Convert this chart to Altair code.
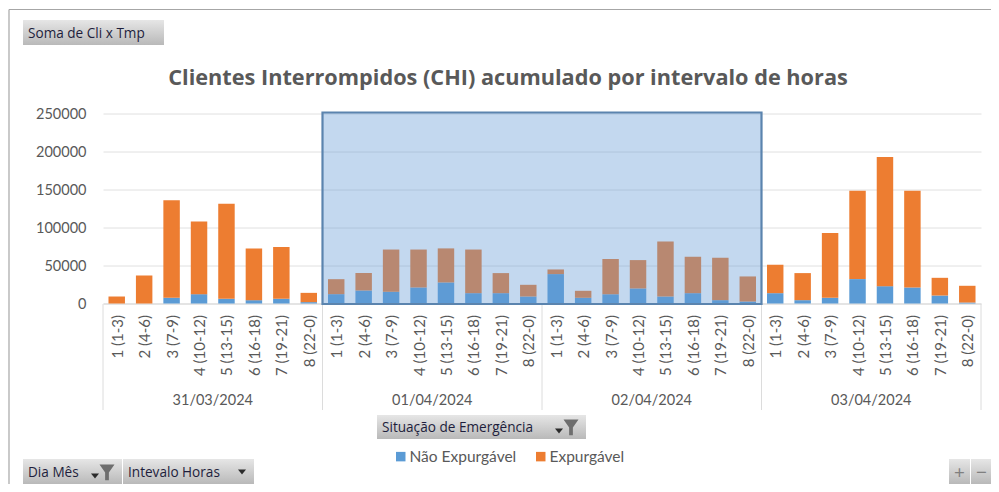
import altair as alt
import pandas as pd

DAYS = ["31/03/2024", "01/04/2024", "02/04/2024", "03/04/2024"]
INTERVALS = ["1 (1-3)", "2 (4-6)", "3 (7-9)", "4 (10-12)", "5 (13-15)", "6 (16-18)", "7 (19-21)", "8 (22-0)"]
NAO = [0, 0, 7500, 12300, 6200, 4400, 6200, 1800,
       12300, 17100, 15400, 21100, 27700, 13600, 13600, 9200,
       38700, 7500, 12300, 19800, 9200, 13600, 4400, 2600,
       13600, 4400, 7500, 32100, 22800, 21100, 10500, 1300]
TOTAL = [9200, 37000, 135800, 108000, 131400, 72500, 74300, 14000,
         32000, 40000, 71000, 71000, 72500, 71000, 40000, 24600,
         44800, 16700, 58400, 57100, 81700, 61500, 60200, 35600,
         51000, 40000, 92700, 148500, 192900, 148500, 33800, 23300]
SERIES = ["Não Expurgável", "Expurgável"]
COLORS = ["#5b9bd5", "#ed7d31"]
TITLE = "Clientes Interrompidos (CHI) acumulado por intervalo de horas"

FONT = "Lato"
GRAY = "#595959"
OX, OY = 103, 113.5
W, H = 878, 190

def fx(v):
    return v - OX

def fy(v):
    return v - OY

keys = [f"{d}|{i}" for d in DAYS for i in INTERVALS]
rows = []
for k, n, t in zip(keys, NAO, TOTAL):
    rows.append({"key": k, "serie": SERIES[0], "ordem": 0, "valor": n})
    rows.append({"key": k, "serie": SERIES[1], "ordem": 1, "valor": t - n})
bars_df = pd.DataFrame(rows)

one = pd.DataFrame({"a": [0]})

bars = alt.Chart(bars_df).mark_bar().encode(
    x=alt.X("key:N", sort=keys, title=None,
            scale=alt.Scale(paddingInner=0.4, paddingOuter=0.2),
            axis=alt.Axis(labelAngle=270, labelExpr="split(datum.value, '|')[1]",
                          labelFont=FONT, labelFontSize=15, labelColor=GRAY,
                          labelPadding=11, labelOffset=1, ticks=False, domain=True, domainColor="#d9d9d9",
                          labelOverlap=False, labelLimit=120, grid=False)),
    y=alt.Y("valor:Q", title=None, stack="zero",
            scale=alt.Scale(domain=[0, 250000], nice=False),
            axis=alt.Axis(values=[0, 50000, 100000, 150000, 200000, 250000], format="d",
                          labelFont=FONT, labelFontSize=14.5, labelColor=GRAY, labelPadding=17, labelOffset=1,
                          ticks=False, domain=False, grid=True, gridColor="#e0e0e0", gridWidth=1)),
    color=alt.Color("serie:N", sort=SERIES, scale=alt.Scale(domain=SERIES, range=COLORS),
                    legend=alt.Legend(title=None, orient="none", direction="horizontal", columns=2,
                                      legendX=fx(393), legendY=fy(448.5), symbolType="square",
                                      symbolSize=90, symbolStrokeWidth=0, labelFont=FONT,
                                      labelFontSize=15.5, labelColor=GRAY, columnPadding=16,
                                      labelOffset=1)),
    order=alt.Order("ordem:Q"),
)

X_Q = alt.Scale(domain=[0, 32], nice=False, zero=False)

day_df = pd.DataFrame({"dia": DAYS, "meio": [4, 12, 20, 28]})
day_labels = alt.Chart(day_df).mark_text(font=FONT, fontSize=14.5, color=GRAY, baseline="middle").encode(
    x=alt.X("meio:Q", scale=X_Q, axis=None),
    y=alt.value(fy(401)),
    text="dia:N",
)

sep_df = pd.DataFrame({"p": [0, 8, 16, 24, 32]})
seps = alt.Chart(sep_df).mark_rule(color="#dcdcdc", strokeWidth=1).encode(
    x=alt.X("p:Q", scale=X_Q, axis=None),
    y=alt.value(fy(304)),
    y2=alt.value(fy(410)),
)

sel_df = pd.DataFrame({"ini": [8], "fim": [24]})
selection = alt.Chart(sel_df).mark_rect(fill="#659bd6", fillOpacity=0.39, stroke="#5b84ae",
                                        strokeWidth=2.2).encode(
    x=alt.X("ini:Q", scale=X_Q, axis=None),
    x2="fim:Q",
    y=alt.value(fy(112.5)),
    y2=alt.value(fy(304)),
)

title = alt.Chart(one).mark_text(text=TITLE, font="Open Sans", fontSize=21.7, fontWeight="bold", color=GRAY,
                                 baseline="middle").encode(
    x=alt.value(fx(508)), y=alt.value(fy(78)))

GRAD = alt.Gradient(gradient="linear", x1=0, y1=0, x2=0, y2=1,
                    stops=[alt.GradientStop(color="#e6e6e6", offset=0),
                           alt.GradientStop(color="#b9b9b9", offset=1)])

def button(x0, y0, x1, y1, label=None, text_x=None, align="left", size=13.6, color="#1e1e3c"):
    parts = [alt.Chart(one).mark_rect(fill=GRAD).encode(
        x=alt.value(fx(x0)), x2=alt.value(fx(x1)), y=alt.value(fy(y0)), y2=alt.value(fy(y1)))]
    if label:
        parts.append(alt.Chart(one).mark_text(text=label, font="Open Sans", fontSize=size, color=color,
                                              align=align, baseline="middle").encode(
            x=alt.value(fx(text_x if text_x is not None else x0 + 5)),
            y=alt.value(fy((y0 + y1) / 2 + 1))))
    return parts

def funnel(cx, cy):
    return [alt.Chart(one).mark_point(
        shape="M-1,-1 L1,-1 L0.25,0.05 L0.25,1.1 L-0.25,1.1 L-0.25,0.05 Z",
        filled=True, color="#6e6e6e", opacity=1, size=225).encode(
        x=alt.value(fx(cx)), y=alt.value(fy(cy)))]

def arrow(cx, cy):
    return [alt.Chart(one).mark_point(shape="M-1,-0.6 L1,-0.6 L0,0.6 Z", filled=True,
                                      color="#2b2b2b", opacity=1, size=64).encode(
        x=alt.value(fx(cx)), y=alt.value(fy(cy)))]

def line(x0, y0, x1, y1):
    return alt.Chart(one).mark_rule(color="#a6a6a6", strokeWidth=1.2).encode(
        x=alt.value(fx(x0)), x2=alt.value(fx(x1)), y=alt.value(fy(y0)), y2=alt.value(fy(y1)))

chrome = [line(9, 9.5, 991, 9.5), line(9, 9.5, 9, 484)]
chrome += button(23, 20, 164, 45, "Soma de Cli x Tmp")
chrome += button(377, 415, 586, 439, "Situação de Emergência") + arrow(559, 431) + funnel(571, 427)
chrome += button(23, 459, 122, 484, "Dia Mês") + arrow(95, 476) + funnel(107, 472)
chrome += button(123, 459, 254, 484, "Intevalo Horas") + arrow(242, 472)
chrome += button(949, 459, 970, 484, "+", 959.5, "center", 19, "#7f7f7f")
chrome += button(971, 459, 992, 484, "−", 981.5, "center", 19, "#7f7f7f")

chart = alt.layer(bars, seps, day_labels, selection, title, *chrome).resolve_scale(
    x="independent"
).properties(
    width=W, height=H,
    padding={"left": OX - 8, "top": OY - 8, "right": 10, "bottom": 484 - OY - H},
    autosize=alt.AutoSizeParams(type="none"),
    background="white",
).configure_view(stroke=None)

chart.save("out.html", embed_options={"renderer": "svg", "actions": False})
